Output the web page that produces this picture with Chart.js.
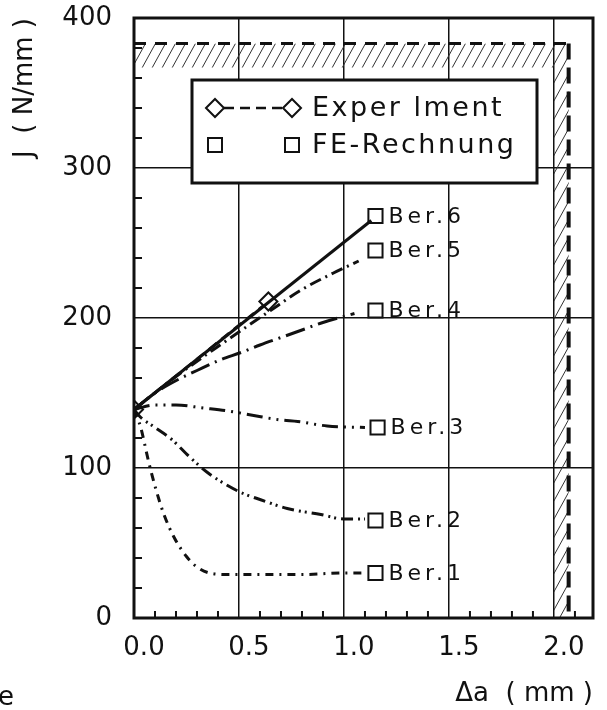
<!DOCTYPE html>
<html>
<head>
<meta charset="utf-8">
<script src="https://cdn.jsdelivr.net/npm/chart.js@4"></script>
<style>html,body{margin:0;background:#fff}</style>
</head>
<body>
<canvas id="jr" width="607" height="710"></canvas>
<script>
// J-R curves: FE runs Ber.1 .. Ber.6 against the experiment
var da1 = [0, 0.03, 0.07, 0.10, 0.14, 0.19, 0.25, 0.30, 0.36, 0.45, 0.60, 0.80, 1.00, 1.10];
var j1  = [139, 128, 104, 88, 70, 54, 41, 34, 30, 29, 29, 29, 30, 30];
var da2 = [0, 0.03, 0.10, 0.18, 0.26, 0.35, 0.45, 0.52, 0.60, 0.73, 0.89, 1.00, 1.10];
var j2  = [139, 134, 127, 119, 108, 97, 88, 83, 79, 73, 69, 66, 66];
var da3 = [0, 0.10, 0.20, 0.33, 0.45, 0.57, 0.70, 0.78, 0.92, 1.10];
var j3  = [139, 142, 142, 140, 138, 135, 132, 131, 128, 127];
var da4 = [0, 0.10, 0.21, 0.30, 0.41, 0.51, 0.60, 0.70, 0.80, 0.90, 1.05];
var j4  = [139, 150, 159, 165, 172, 177, 182, 187, 192, 197, 203];
var da5 = [0, 0.20, 0.40, 0.65, 0.80, 0.95, 1.07];
var j5  = [139, 161, 181, 205, 219, 230, 238];
var da6 = [0, 1.13];
var j6  = [139, 265];

// experiment
var daExp = [0, 0.64];
var jExp  = [139, 211];

// FE end markers with their labels
var feLabels = ['Ber.1', 'Ber.2', 'Ber.3', 'Ber.4', 'Ber.5', 'Ber.6'];
var feDa = [1.15, 1.15, 1.16, 1.15, 1.15, 1.15];
var feJ  = [30, 65, 127, 205, 245, 268];

// validity limits (hatched)
var limitJ = 383, hatchJ = 367;
var limitDa = 2.07, hatchDa = 2.0;

var xMax = 2.186, yMax = 400;
var ink = '#111';
var font = '"DejaVu Sans", sans-serif';

function pts(xs, ys) {
  return xs.map(function (x, i) { return {x: x, y: ys[i]}; });
}

function curve(xs, ys, dash) {
  return {
    data: pts(xs, ys), borderColor: ink, borderWidth: 3, borderDash: dash,
    pointRadius: 0, cubicInterpolationMode: 'monotone', fill: false
  };
}

var hatchPlugin = {
  id: 'hatch',
  beforeDatasetsDraw: function (chart) {
    var sx = chart.scales.x, sy = chart.scales.y, ctx = chart.ctx;
    var x0 = sx.getPixelForValue(0), x1 = sx.getPixelForValue(hatchDa), x2 = sx.getPixelForValue(limitDa);
    var yt = sy.getPixelForValue(limitJ), yb = sy.getPixelForValue(hatchJ), y0 = sy.getPixelForValue(0);
    ctx.save();
    ctx.beginPath();
    ctx.rect(x0, yt, x2 - x0, yb - yt);
    ctx.rect(x1, yt, x2 - x1, y0 - yt);
    ctx.clip();
    ctx.strokeStyle = '#333';
    ctx.lineWidth = 1;
    ctx.beginPath();
    var rise = y0 - yt;
    for (var s = x0 - rise; s < x2 + 10; s += 10) {
      ctx.moveTo(s, y0);
      ctx.lineTo(s + rise * 0.55, yt);
    }
    ctx.stroke();
    ctx.restore();
  },
  afterDatasetsDraw: function (chart) {
    var sx = chart.scales.x, sy = chart.scales.y, ctx = chart.ctx, ca = chart.chartArea;
    ctx.save();
    ctx.strokeStyle = ink;
    // minor ticks pointing inward
    ctx.lineWidth = 2;
    ctx.beginPath();
    for (var v = 20; v < yMax; v += 20) {
      if (v % 100 === 0) continue;
      var py = sy.getPixelForValue(v);
      ctx.moveTo(ca.left, py); ctx.lineTo(ca.left + 8, py);
    }
    for (var k = 1; k <= 21; k++) {
      if (k % 5 === 0) continue;
      var px = sx.getPixelForValue(k / 10);
      ctx.moveTo(px, ca.bottom); ctx.lineTo(px, ca.bottom - 7);
    }
    ctx.stroke();
    // frame
    ctx.lineWidth = 3;
    ctx.strokeRect(ca.left, ca.top, ca.right - ca.left, ca.bottom - ca.top);

    // Ber labels next to the FE markers
    ctx.fillStyle = ink;
    ctx.font = '22px ' + font;
    ctx.letterSpacing = '4px';
    ctx.textBaseline = 'middle';
    ctx.textAlign = 'left';
    feLabels.forEach(function (lab, i) {
      ctx.fillText(lab, sx.getPixelForValue(feDa[i]) + 13, sy.getPixelForValue(feJ[i]) + 1);
    });

    // legend box
    var lx = ca.left + 58, ly = ca.top + 62, lw = 345, lh = 103;
    ctx.fillStyle = '#fff';
    ctx.fillRect(lx, ly, lw, lh);
    ctx.lineWidth = 3;
    ctx.strokeRect(lx, ly, lw, lh);
    var m1 = lx + 23, m2 = lx + 100, r1 = ly + 28, r2 = ly + 65;
    ctx.lineWidth = 2.5;
    ctx.setLineDash([10, 6]);
    ctx.beginPath(); ctx.moveTo(m1 + 9, r1); ctx.lineTo(m2 - 9, r1); ctx.stroke();
    ctx.setLineDash([]);
    ctx.lineWidth = 2;
    [m1, m2].forEach(function (mx) {
      ctx.beginPath();
      ctx.moveTo(mx - 9, r1); ctx.lineTo(mx, r1 - 9); ctx.lineTo(mx + 9, r1); ctx.lineTo(mx, r1 + 9);
      ctx.closePath(); ctx.stroke();
      ctx.strokeRect(mx - 7, r2 - 7, 14, 14);
    });
    ctx.fillStyle = ink;
    ctx.font = '27px ' + font;
    ctx.letterSpacing = '2.5px';
    ctx.fillText('Exper lment', lx + 120, r1 + 1);
    ctx.fillText('FE-Rechnung', lx + 120, r2 + 1);

    // clipped remnant of neighbouring text at the page edge
    ctx.font = '26px ' + font;
    ctx.letterSpacing = '0px';
    ctx.fillText('e', -2, 698);
    ctx.restore();
  }
};

new Chart(document.getElementById('jr'), {
  type: 'line',
  data: {
    datasets: [
      {
        data: pts([0, limitDa], [limitJ, limitJ]), borderColor: ink, borderWidth: 3,
        borderDash: [12, 9], pointRadius: 0
      },
      {
        data: pts([limitDa, limitDa], [limitJ, 0]), borderColor: ink, borderWidth: 4,
        borderDash: [16, 8], pointRadius: 0
      },
      curve(da1, j1, [8, 6, 2, 6]),
      curve(da2, j2, [12, 5, 2, 4, 2, 5]),
      curve(da3, j3, [16, 6, 2, 6, 2, 6]),
      curve(da4, j4, [20, 6, 2, 6]),
      curve(da5, j5, [12, 5, 2, 5]),
      curve(da6, j6, []),
      {
        data: pts(daExp, jExp), borderColor: ink, borderWidth: 2.5, borderDash: [10, 6],
        pointStyle: 'rectRot', pointRadius: 9, pointBorderWidth: 2,
        pointBackgroundColor: '#fff', pointBorderColor: ink
      },
      {
        data: pts(feDa, feJ), showLine: false, pointStyle: 'rect', pointRadius: 10,
        pointBorderWidth: 2, pointBackgroundColor: '#fff', pointBorderColor: ink
      }
    ]
  },
  options: {
    responsive: false,
    animation: false,
    devicePixelRatio: 1,
    layout: {padding: {top: 18, right: 14, left: 0, bottom: 0}},
    plugins: {legend: {display: false}, tooltip: {enabled: false}},
    scales: {
      x: {
        type: 'linear', min: 0, max: xMax,
        afterFit: function (s) { s.height = 92; },
        border: {display: false},
        grid: {color: ink, lineWidth: 1.5, drawTicks: false},
        ticks: {
          stepSize: 0.5, includeBounds: false, padding: 15, labelOffset: 10,
          color: ink, font: {family: font, size: 26}, maxRotation: 0, autoSkip: false,
          callback: function (v) { return v.toFixed(1); }
        },
        title: {
          display: true, text: 'Δa  ( mm )', align: 'end', color: ink,
          font: {family: font, size: 26}, padding: 0
        }
      },
      y: {
        type: 'linear', min: 0, max: yMax,
        // fixed axis width; the label padding must not push the plot top down
        afterFit: function (s) { s.width = 134; s.paddingTop = 0; s.paddingBottom = 0; },
        border: {display: false},
        grid: {color: ink, lineWidth: 1.5, drawTicks: false},
        ticks: {stepSize: 100, padding: 22, color: ink, font: {family: font, size: 26}},
        title: {
          display: true, text: 'J  ( N/mm )', align: 'end', color: ink,
          font: {family: font, size: 26}, padding: {top: 10, bottom: 0}
        }
      }
    }
  },
  plugins: [hatchPlugin]
});
</script>
</body>
</html>
